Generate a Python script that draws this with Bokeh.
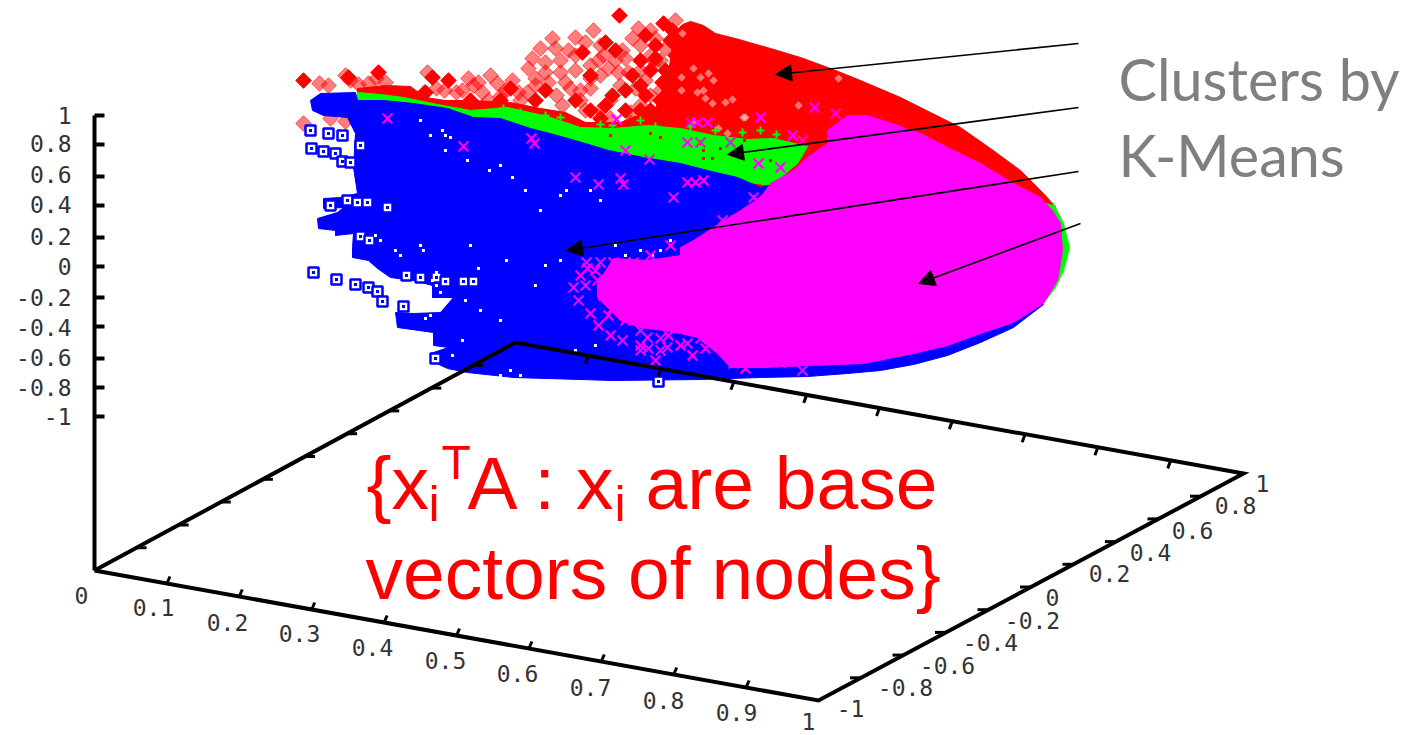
import math
from bokeh.core.properties import value
from bokeh.embed import file_html
from bokeh.models import Arrow, NormalHead
from bokeh.plotting import figure
from bokeh.resources import INLINE

RED, GREEN, BLUE, MAGENTA = "#ff0000", "#00ff00", "#0000ff", "#ff00ff"

# ---- cluster outlines (projected position) ----
red_cloud = [(357,88),(385,85),(410,86),(425,97),(445,100),(470,100),(510,102),(540,108),(565,112),(585,122),(620,122),(655,108),(668,72),(674,32),(682,24),(690,21),(703,25),(715,33),(735,38),(770,48),(800,57),(830,68),(860,80),(900,97),(930,112),(960,127),(990,148),(1020,170),(1040,190),(1055,206),(1000,215),(800,200),(600,160),(450,115),(357,100)]
green_band = [(357,92),(380,94),(403,97),(437,104),(470,110),(507,107),(547,116),(580,127),(613,128),(647,125),(680,128),(713,135),(747,139),(773,138),(807,146),(797,163),(770,185),(700,175),(600,155),(500,125),(400,105),(357,100)]
green_rim = [(1040,196),(1053,203),(1063,223),(1069,247),(1063,270),(1055,287),(1045,300),(1030,260),(1030,210)]
red_tip = [(1022,172),(1040,190),(1052,204),(1040,200)]
blue_top = [(320,93),(355,92),(357,100),(383,100),(413,103),(447,108),(473,117),(500,118),(530,128),(557,135),(585,143),(608,150),(643,157),(680,163),(707,170),(737,177),(760,187),(772,184)]
blue_under_magenta = [(900,300),(1043,304)]
blue_bottom = [(1013,327),(980,342),(947,355),(913,364),(880,370),(847,373),(807,376),(760,377),(700,379),(613,380),(513,377),(467,372),(447,368),(430,360),(430,353),(448,347),(433,345),(433,332),(397,327),(395,312),(413,313),(440,312),(453,297),(432,297),(432,285),(413,280),(390,277),(377,268),(368,260),(352,257),(352,247),(353,233),(335,235),(335,230),(318,228),(317,218),(337,212),(343,207),(323,208),(323,198),(340,197),(357,193),(353,167),(355,133),(347,117),(323,115),(312,110),(310,100)]
magenta_main = [(827,130),(847,115),(867,115),(897,125),(920,133),(947,147),(980,163),(1013,183),(1040,197),(1052,210),(1060,223),(1062,250),(1057,280),(1043,303),(1013,322),(980,333),(947,345),(913,353),(863,363),(807,365),(763,367),(730,367),(717,353),(697,337),(680,333),(663,330),(640,327),(620,320),(597,297),(597,283),(613,258),(647,260),(680,255),(680,247),(693,240),(713,227),(740,210),(760,197),(770,183),(793,170),(807,157),(827,143)]

# ---- sparse points ----
red_open_x = [319,328,345,350,358,368,376,385,427,424,444,468,473,482,490,497,505,488,520,532,528,535,527,545,555,560,548,556,562,575,590,575,570,580,593,600,615,600,590,610,620,632,638,650,640,628,650,640,660,665,650,675,675,600,665,655,630,615,303,330,345,357,540,552,568,585,603,622,640,655,560,575,590,608,625,645,665,545,565,580,598,618,635,655,535,585,610,630,660,436,456,462,478,500,512,518]
red_open_y = [83,85,75,80,84,83,78,82,72,92,90,78,85,92,75,83,90,100,100,58,68,78,92,72,48,60,82,95,105,37,65,70,88,100,30,45,60,75,88,100,85,38,28,55,70,72,95,105,60,80,30,45,20,110,108,118,122,128,123,118,121,123,48,38,50,42,55,50,45,38,72,55,78,68,58,80,48,62,82,90,60,72,88,62,85,110,118,112,90,88,92,90,82,96,80,92]
red_solid_x = [303,348,378,432,448,510,425,582,605,619,645,663,655,672,675,665,645,650,590,605,575,535,500,470,632,660,625,545,590,612,640,650,662,670,640,625,615,655,640,600]
red_solid_y = [80,77,72,77,80,88,92,52,42,15,35,23,45,30,55,70,95,110,110,105,100,100,100,100,75,100,110,90,75,95,60,70,82,40,85,90,50,58,110,118]
white_on_red_x = [693,700,708,713,697,703,705,712,725,732,743,693,718,733,750,682,681,681,798,745,727,838]
white_on_red_y = [68,77,73,80,92,90,98,103,102,99,117,122,128,33,38,33,77,90,105,117,133,78]
blue_open_x = [311,323,335,342,350,310,328,342,360,330,347,357,367,387,360,369,406,313,336,355,368,377,382,403,435,658,420,436,445,463,473]
blue_open_y = [148,151,153,161,162,130,133,135,145,205,200,202,202,207,236,240,275,272,279,284,287,291,301,306,358,381,277,277,281,281,281]
white_speck_x = [420,442,445,450,430,445,467,489,500,512,525,540,560,566,590,600,615,625,640,652,655,660,670,506,560,545,535,470,478,420,423,436,432,436,440,465,480,500,422,430,375,380,395,400,405,412,400,390,520,500,510,595,575,425,462,452]
white_speck_y = [120,130,135,137,135,150,160,170,165,177,190,210,195,190,190,200,245,255,250,255,260,250,240,260,260,265,285,245,268,245,250,272,280,285,292,300,310,320,305,315,235,240,250,255,290,300,345,360,375,375,370,345,350,318,340,355]
magenta_x_x = [387,463,531,534,616,625,649,575,598,620,623,673,814,835,760,707,697,690,792,802,758,780,687,695,703,687,700,730,753,587,600,613,633,573,590,608,648,660,647,667,687,730,750,733,780,790,802,757,722,580,595,640,660,586,597,603,612,625,640,578,585,598,610,622,640,655,668,680,692,705,718,735,748,700,715,735,770,650,670,700,733,745]
magenta_x_y = [118,146,138,143,119,150,159,177,184,178,184,197,107,113,117,122,122,122,135,140,163,167,182,182,180,142,142,142,197,268,262,262,262,287,313,315,348,338,337,347,343,345,357,363,362,360,370,200,220,275,270,345,350,262,280,295,308,320,330,300,285,325,335,340,350,360,335,345,355,348,345,330,352,245,232,220,205,255,245,338,356,368]
green_plus_x = [503,520,545,560,600,612,640,655,690,715,742,776,760,785]
green_plus_y = [108,112,115,117,124,125,120,126,126,130,132,134,130,158]
red_speck_x = [703,703,712,720,700,735,744,770,610,650,660]
red_speck_y = [150,158,158,148,143,150,140,160,135,133,137]

# ---- 3-D frame and tick labels ----
z_axis = [(94,115),(94,570)]
base_frame = [(94,570),(818,700),(1243,473),(515,342),(94,570)]
z_tick_y = [115,144,176,205,237,266,297,326,358,387,416]
x_tick_frac = [0.1,0.2,0.3,0.4,0.5,0.6,0.7,0.8,0.9]
y_tick_frac = [0.1,0.2,0.3,0.4,0.5,0.6,0.7,0.8,0.9]
z_labels = ["1","0.8","0.6","0.4","0.2","0","-0.2","-0.4","-0.6","-0.8","-1"]
z_label_y = [115,143,174,204,236,266,297,327,357,387,416]
x_labels = ["0","0.1","0.2","0.3","0.4","0.5","0.6","0.7","0.8","0.9","1"]
x_label_x = [81,153,227,299,372,445,517,590,663,736,808]
x_label_y = [595,607,622,633,647,660,673,687,700,712,721]
y_labels = ["-1","-0.8","-0.6","-0.4","-0.2","0","0.2","0.4","0.6","0.8","1"]
y_label_x = [850,905,947,990,1032,1052,1109,1150,1192,1235,1262]
y_label_y = [708,687,665,642,620,597,573,552,530,505,483]

# ---- annotations ----
arrow_tails = [(1078,43),(1078,107),(1078,171),(1080,223)]
arrow_tips = [(775,74),(727,154),(566,250),(918,283)]
gray_lines = ["Clusters by","K-Means"]
gray_x, gray_y = [1118,1118], [78,154]
red_main = ["{x","A : x","are base","vectors of nodes}"]
red_main_x, red_main_y = [366,467,645,365], [482,482,482,572]
red_sub = ["i","i"]
red_sub_x, red_sub_y = [428,614], [503,503]
red_sup = ["T"]
red_sup_x, red_sup_y = [441], [462]

p = figure(width=1411, height=735, x_range=(0,1411), y_range=(735,0),
           toolbar_location=None, output_backend="svg", min_border=0,
           background_fill_color="white", border_fill_color="white")
p.axis.visible = False
p.grid.visible = False
p.outline_line_color = None

def poly(pts, color):
    p.patch([a for a,_ in pts], [b for _,b in pts], fill_color=color, line_color=color, line_width=1)

# clusters, back to front
p.scatter(red_open_x, red_open_y, marker="square", angle=math.pi/4, size=11, fill_color=RED, fill_alpha=0.5, line_color=RED, line_alpha=0.6, line_width=1)
p.scatter(red_solid_x, red_solid_y, marker="square", angle=math.pi/4, size=11, fill_color=RED, line_color=RED)
poly(red_cloud, RED)
p.scatter(white_on_red_x, white_on_red_y, marker="square", angle=math.pi/4, size=6, fill_color="white", fill_alpha=0.45, line_color=None)
poly(green_rim, GREEN)
poly(red_tip, RED)
poly(green_band, GREEN)
p.scatter(green_plus_x, green_plus_y, marker="cross", size=8, line_color=GREEN, line_width=2)
p.scatter(red_speck_x, red_speck_y, marker="square", size=3, fill_color=RED, line_color=None)
poly(blue_top + blue_under_magenta + blue_bottom, BLUE)
p.scatter(blue_open_x, blue_open_y, marker="square", size=10, fill_color="white", line_color=BLUE, line_width=2.5)
p.scatter(blue_open_x, blue_open_y, marker="square", size=3, fill_color=BLUE, line_color=None)
p.scatter(white_speck_x, white_speck_y, marker="square", size=3, fill_color="white", line_color=None)
poly(magenta_main, MAGENTA)
p.scatter(magenta_x_x, magenta_x_y, marker="x", size=14, line_color=MAGENTA, line_width=2)

# frame
p.line([a for a,_ in z_axis], [b for _,b in z_axis], line_color="black", line_width=4)
p.line([a for a,_ in base_frame], [b for _,b in base_frame], line_color="black", line_width=4, line_join="miter")
(ox,oy),(fx,fy),(rx,ry),(bx,by) = base_frame[:4]
zx = z_axis[0][0]
p.segment([zx]*len(z_tick_y), z_tick_y, [zx+10]*len(z_tick_y), z_tick_y, line_color="black", line_width=4)
front = [(ox+(fx-ox)*f, oy+(fy-oy)*f) for f in x_tick_frac]
back = [(bx+(rx-bx)*f, by+(ry-by)*f) for f in x_tick_frac]
right = [(fx+(rx-fx)*f, fy+(ry-fy)*f) for f in y_tick_frac]
left = [(ox+(bx-ox)*f, oy+(by-oy)*f) for f in y_tick_frac]
p.segment([a for a,_ in front], [b for _,b in front], [a+3 for a,_ in front], [b-7 for _,b in front], line_color="black", line_width=3)
p.segment([a for a,_ in back], [b for _,b in back], [a-3 for a,_ in back], [b+8 for _,b in back], line_color="black", line_width=3)
p.segment([a for a,_ in right], [b for _,b in right], [a-11 for a,_ in right], [b for _,b in right], line_color="black", line_width=3)
p.segment([a for a,_ in left], [b for _,b in left], [a+10 for a,_ in left], [b for _,b in left], line_color="black", line_width=3)

mono = value("DejaVu Sans Mono")
p.text([71]*len(z_labels), z_label_y, text=z_labels, text_font=mono, text_font_size="23px", text_color="#333333", text_align="right", text_baseline="middle")
p.text(x_label_x, x_label_y, text=x_labels, text_font=mono, text_font_size="23px", text_color="#333333", text_align="center", text_baseline="middle")
p.text(y_label_x, y_label_y, text=y_labels, text_font=mono, text_font_size="23px", text_color="#333333", text_align="center", text_baseline="middle")

# arrows
for (tx,ty),(hx,hy) in zip(arrow_tails, arrow_tips):
    p.add_layout(Arrow(end=NormalHead(size=16, fill_color="black", line_color="black"),
                       x_start=tx, y_start=ty, x_end=hx, y_end=hy, line_color="black", line_width=1.6))

# annotation text
arial = value("Liberation Sans")
p.text(red_main_x, red_main_y, text=red_main, text_font=arial, text_font_size="75px", text_color=RED, text_baseline="alphabetic", text_align="left")
p.text(red_sub_x, red_sub_y, text=red_sub, text_font=arial, text_font_size="50px", text_color=RED, text_baseline="alphabetic", text_align="left")
p.text(red_sup_x, red_sup_y, text=red_sup, text_font=arial, text_font_size="48px", text_color=RED, text_baseline="alphabetic", text_align="left")
p.text(gray_x, gray_y, text=gray_lines, text_font=value("Lato"), text_font_size="57.5px", text_color="#7f7f7f", text_baseline="alphabetic", text_align="left")

open("out.html", "w").write(file_html(p, INLINE))
